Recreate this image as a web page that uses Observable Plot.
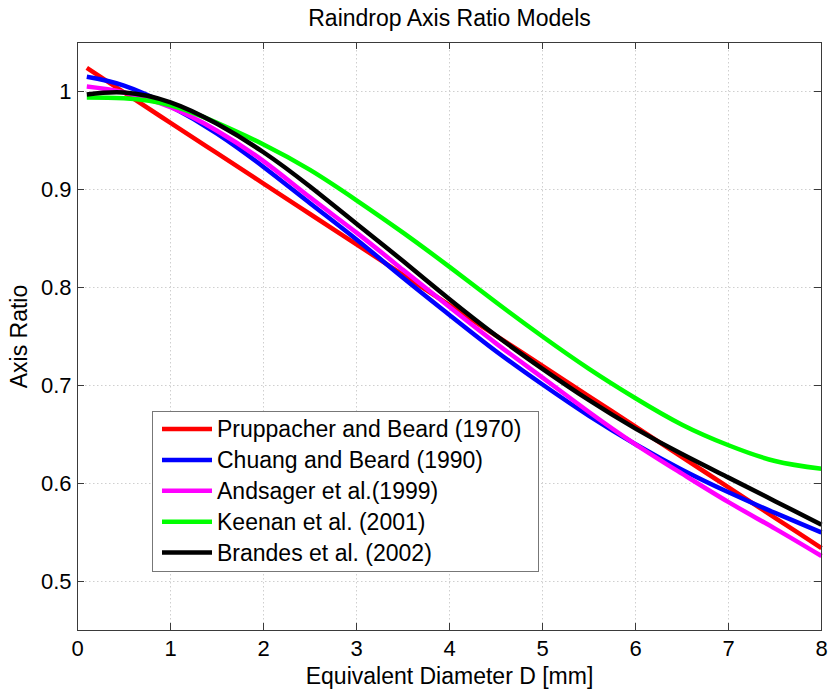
<!DOCTYPE html>
<html><head><meta charset="utf-8">
<script src="https://cdn.jsdelivr.net/npm/d3@7"></script>
<script src="https://cdn.jsdelivr.net/npm/@observablehq/plot@0.6"></script>
<style>body{margin:0;background:#fff} svg{display:block}</style>
</head><body><div id="chart"></div>
<script>
// ---- data ----
const diameters = [0.1,0.5,1,1.5,2,2.5,3,3.5,4,4.5,5,5.5,6,6.5,7,7.5,8];
const models = ["Pruppacher and Beard (1970)","Chuang and Beard (1990)","Andsager et al.(1999)","Keenan et al. (2001)","Brandes et al. (2002)"];
const colors = ["#ff0000","#0000ff","#ff00ff","#00ff00","#000000"];
const pruppacher = [1.024,0.999,0.968,0.937,0.906,0.875,0.844,0.813,0.782,0.751,0.720,0.689,0.658,0.627,0.596,0.565,0.534];
const chuang     = [1.015,1.006,0.985,0.957,0.923,0.886,0.849,0.810,0.772,0.735,0.701,0.669,0.640,0.614,0.591,0.570,0.550];
const andsager   = [1.005,0.999,0.984,0.960,0.929,0.892,0.856,0.818,0.780,0.743,0.708,0.673,0.640,0.610,0.581,0.554,0.526];
const keenan     = [0.994,0.993,0.986,0.968,0.946,0.920,0.889,0.856,0.821,0.785,0.750,0.717,0.687,0.660,0.639,0.623,0.615];
const brandes    = [0.997,0.999,0.989,0.967,0.938,0.903,0.865,0.827,0.788,0.751,0.717,0.685,0.656,0.630,0.606,0.582,0.558];
const xTicks = [0,1,2,3,4,5,6,7,8];
const yTicks = [0.5,0.6,0.7,0.8,0.9,1];
const titleText = "Raindrop Axis Ratio Models";
const xLabel = "Equivalent Diameter D [mm]";
const yLabel = "Axis Ratio";

const series = [pruppacher, chuang, andsager, keenan, brandes];
const data = models.flatMap((m, i) => diameters.map((d, j) => ({model: m, D: d, ratio: series[i][j]})));

// ---- layout ----
const W = 830, H = 692, mL = 77, mR = 9, mT = 42, mB = 62;
const innerW = W - mL - mR, innerH = H - mT - mB;
const tick = 7;
const axisColor = "#3a3a3a";
const font = "'Liberation Sans', Arial, Helvetica, sans-serif";

const plot = Plot.plot({
  width: W, height: H,
  marginLeft: mL, marginRight: mR, marginTop: mT, marginBottom: mB,
  style: {fontFamily: font, background: "#fff", color: "#000", overflow: "visible"},
  x: {domain: [0, 8]},
  y: {domain: [0.45, 1.05]},
  color: {domain: models, range: colors},
  marks: [
    Plot.gridX(xTicks.slice(1, -1), {stroke: "#cfcfcf", strokeOpacity: 1, strokeDasharray: "1.5,2.5"}),
    Plot.gridY(yTicks, {stroke: "#cfcfcf", strokeOpacity: 1, strokeDasharray: "1.5,2.5"}),
    Plot.line(data, {x: "D", y: "ratio", stroke: "model", z: "model", strokeWidth: 4.5, curve: "natural", strokeLinecap: "butt"}),
    Plot.frame({stroke: axisColor}),
    Plot.tickX(xTicks, {x: d => d, insetTop: innerH - tick, stroke: axisColor}),
    Plot.tickX(xTicks, {x: d => d, insetBottom: innerH - tick, stroke: axisColor}),
    Plot.tickY(yTicks, {y: d => d, insetRight: innerW - tick, stroke: axisColor}),
    Plot.tickY(yTicks, {y: d => d, insetLeft: innerW - tick, stroke: axisColor}),
    Plot.axisX(xTicks, {tickSize: 0, tickPadding: 10, fontSize: 22, label: null, tickFormat: d => String(d)}),
    Plot.axisY(yTicks, {tickSize: 0, tickPadding: 6, fontSize: 22, label: null, tickFormat: d => String(d)}),
    Plot.text([titleText], {text: d => d, frameAnchor: "top", textAnchor: "middle", lineAnchor: "middle", dy: -24, fontSize: 23}),
    Plot.text([xLabel], {text: d => d, frameAnchor: "bottom", textAnchor: "middle", lineAnchor: "middle", dy: 46, fontSize: 23}),
    Plot.text([yLabel], {text: d => d, frameAnchor: "left", textAnchor: "middle", lineAnchor: "middle", dx: -58, rotate: -90, fontSize: 23})
  ]
});

// ---- legend inside the plot area ----
const svg = d3.select(plot);
const boxX = mL + 75, boxY = mT + 369, boxW = 386, boxH = 160;
const lg = svg.append("g").attr("font-family", font).attr("text-anchor", "start");
lg.append("rect").attr("x", boxX + 0.5).attr("y", boxY + 0.5).attr("width", boxW).attr("height", boxH)
  .attr("fill", "#fff").attr("stroke", "#777").attr("stroke-width", 1);
models.forEach((m, i) => {
  const cy = boxY + 18 + i * 30.9;
  lg.append("line").attr("x1", boxX + 10).attr("x2", boxX + 60).attr("y1", cy).attr("y2", cy)
    .attr("stroke", colors[i]).attr("stroke-width", 4.5);
  lg.append("text").attr("x", boxX + 65).attr("y", cy).attr("dy", "0.35em")
    .attr("text-anchor", "start").attr("font-size", 23).attr("fill", "#000").text(m);
});

document.getElementById("chart").appendChild(plot);
</script>
</body></html>
